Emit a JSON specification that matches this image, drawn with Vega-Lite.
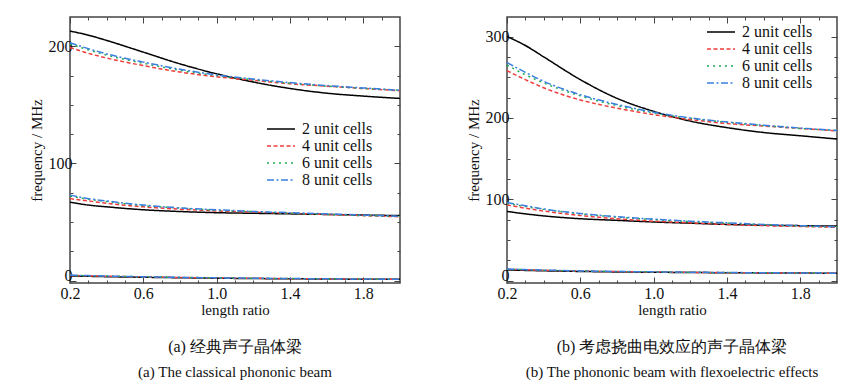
{
  "$schema": "https://vega.github.io/schema/vega-lite/v6.json",
  "padding": {"left": 28, "top": 15, "right": 20, "bottom": 2},
  "spacing": 61,
  "resolve": {"scale": {"color": "independent", "strokeDash": "independent"}},
  "config": {
    "font": "Liberation Serif",
    "view": {"stroke": "#444", "strokeWidth": 1.5},
    "style": {"guide-label": {"font": "Liberation Serif"}, "guide-title": {"font": "Liberation Serif", "fontWeight": "normal"}, "group-title": {"font": "Liberation Serif"}},
    "axis": {"labelFont": "Liberation Serif", "labelFontSize": 16, "labelColor": "#111", "titleFont": "Liberation Serif", "titleFontSize": 15, "titleFontWeight": "normal", "titleColor": "#111", "tickColor": "#444", "grid": false, "domain": false, "labelPadding": 4, "labelFlush": false},
    "legend": {"labelFont": "Liberation Serif", "labelFontSize": 16, "labelColor": "#111", "symbolStrokeWidth": 1.5, "rowPadding": 1, "padding": 0, "labelOffset": 4}
  },
  "datasets": {
    "a": [
      {"series":"2 unit cells","branch":1,"ratio":0.2,"freq":213},{"series":"2 unit cells","branch":1,"ratio":0.3,"freq":209.5},{"series":"2 unit cells","branch":1,"ratio":0.4,"freq":205},{"series":"2 unit cells","branch":1,"ratio":0.6,"freq":195},{"series":"2 unit cells","branch":1,"ratio":0.8,"freq":185},{"series":"2 unit cells","branch":1,"ratio":1.0,"freq":176.5},{"series":"2 unit cells","branch":1,"ratio":1.2,"freq":169.5},{"series":"2 unit cells","branch":1,"ratio":1.4,"freq":164},{"series":"2 unit cells","branch":1,"ratio":1.6,"freq":160},{"series":"2 unit cells","branch":1,"ratio":1.8,"freq":157.5},{"series":"2 unit cells","branch":1,"ratio":2.0,"freq":155.5},
      {"series":"4 unit cells","branch":1,"ratio":0.2,"freq":199},{"series":"4 unit cells","branch":1,"ratio":0.3,"freq":194},{"series":"4 unit cells","branch":1,"ratio":0.4,"freq":190},{"series":"4 unit cells","branch":1,"ratio":0.6,"freq":183.5},{"series":"4 unit cells","branch":1,"ratio":0.8,"freq":178},{"series":"4 unit cells","branch":1,"ratio":1.0,"freq":174},{"series":"4 unit cells","branch":1,"ratio":1.2,"freq":171},{"series":"4 unit cells","branch":1,"ratio":1.4,"freq":168},{"series":"4 unit cells","branch":1,"ratio":1.6,"freq":166},{"series":"4 unit cells","branch":1,"ratio":1.8,"freq":164},{"series":"4 unit cells","branch":1,"ratio":2.0,"freq":162},
      {"series":"6 unit cells","branch":1,"ratio":0.2,"freq":202},{"series":"6 unit cells","branch":1,"ratio":0.3,"freq":197},{"series":"6 unit cells","branch":1,"ratio":0.4,"freq":192.5},{"series":"6 unit cells","branch":1,"ratio":0.6,"freq":185.5},{"series":"6 unit cells","branch":1,"ratio":0.8,"freq":179.5},{"series":"6 unit cells","branch":1,"ratio":1.0,"freq":175},{"series":"6 unit cells","branch":1,"ratio":1.2,"freq":171.5},{"series":"6 unit cells","branch":1,"ratio":1.4,"freq":168.5},{"series":"6 unit cells","branch":1,"ratio":1.6,"freq":166},{"series":"6 unit cells","branch":1,"ratio":1.8,"freq":164},{"series":"6 unit cells","branch":1,"ratio":2.0,"freq":162.5},
      {"series":"8 unit cells","branch":1,"ratio":0.2,"freq":203},{"series":"8 unit cells","branch":1,"ratio":0.3,"freq":198},{"series":"8 unit cells","branch":1,"ratio":0.4,"freq":193.5},{"series":"8 unit cells","branch":1,"ratio":0.6,"freq":186.5},{"series":"8 unit cells","branch":1,"ratio":0.8,"freq":180.5},{"series":"8 unit cells","branch":1,"ratio":1.0,"freq":175.5},{"series":"8 unit cells","branch":1,"ratio":1.2,"freq":172},{"series":"8 unit cells","branch":1,"ratio":1.4,"freq":169},{"series":"8 unit cells","branch":1,"ratio":1.6,"freq":166.5},{"series":"8 unit cells","branch":1,"ratio":1.8,"freq":164.5},{"series":"8 unit cells","branch":1,"ratio":2.0,"freq":162.5},
      {"series":"2 unit cells","branch":2,"ratio":0.2,"freq":67},{"series":"2 unit cells","branch":2,"ratio":0.3,"freq":64.5},{"series":"2 unit cells","branch":2,"ratio":0.4,"freq":63},{"series":"2 unit cells","branch":2,"ratio":0.6,"freq":60.5},{"series":"2 unit cells","branch":2,"ratio":0.8,"freq":59},{"series":"2 unit cells","branch":2,"ratio":1.0,"freq":58},{"series":"2 unit cells","branch":2,"ratio":1.2,"freq":57.5},{"series":"2 unit cells","branch":2,"ratio":1.4,"freq":57},{"series":"2 unit cells","branch":2,"ratio":1.6,"freq":56.5},{"series":"2 unit cells","branch":2,"ratio":1.8,"freq":56},{"series":"2 unit cells","branch":2,"ratio":2.0,"freq":55.5},
      {"series":"4 unit cells","branch":2,"ratio":0.2,"freq":70},{"series":"4 unit cells","branch":2,"ratio":0.3,"freq":68},{"series":"4 unit cells","branch":2,"ratio":0.4,"freq":66},{"series":"4 unit cells","branch":2,"ratio":0.6,"freq":63},{"series":"4 unit cells","branch":2,"ratio":0.8,"freq":61},{"series":"4 unit cells","branch":2,"ratio":1.0,"freq":59.5},{"series":"4 unit cells","branch":2,"ratio":1.2,"freq":58.5},{"series":"4 unit cells","branch":2,"ratio":1.4,"freq":57.5},{"series":"4 unit cells","branch":2,"ratio":1.6,"freq":56.5},{"series":"4 unit cells","branch":2,"ratio":1.8,"freq":55.5},{"series":"4 unit cells","branch":2,"ratio":2.0,"freq":54.5},
      {"series":"6 unit cells","branch":2,"ratio":0.2,"freq":72},{"series":"6 unit cells","branch":2,"ratio":0.3,"freq":69.5},{"series":"6 unit cells","branch":2,"ratio":0.4,"freq":67.5},{"series":"6 unit cells","branch":2,"ratio":0.6,"freq":64},{"series":"6 unit cells","branch":2,"ratio":0.8,"freq":62},{"series":"6 unit cells","branch":2,"ratio":1.0,"freq":60},{"series":"6 unit cells","branch":2,"ratio":1.2,"freq":59},{"series":"6 unit cells","branch":2,"ratio":1.4,"freq":57.5},{"series":"6 unit cells","branch":2,"ratio":1.6,"freq":56.5},{"series":"6 unit cells","branch":2,"ratio":1.8,"freq":55.5},{"series":"6 unit cells","branch":2,"ratio":2.0,"freq":55},
      {"series":"8 unit cells","branch":2,"ratio":0.2,"freq":73},{"series":"8 unit cells","branch":2,"ratio":0.3,"freq":70},{"series":"8 unit cells","branch":2,"ratio":0.4,"freq":68},{"series":"8 unit cells","branch":2,"ratio":0.6,"freq":64.5},{"series":"8 unit cells","branch":2,"ratio":0.8,"freq":62},{"series":"8 unit cells","branch":2,"ratio":1.0,"freq":60.5},{"series":"8 unit cells","branch":2,"ratio":1.2,"freq":59},{"series":"8 unit cells","branch":2,"ratio":1.4,"freq":58},{"series":"8 unit cells","branch":2,"ratio":1.6,"freq":57},{"series":"8 unit cells","branch":2,"ratio":1.8,"freq":56},{"series":"8 unit cells","branch":2,"ratio":2.0,"freq":55},
      {"series":"2 unit cells","branch":3,"ratio":0.2,"freq":4},{"series":"2 unit cells","branch":3,"ratio":0.3,"freq":3.7},{"series":"2 unit cells","branch":3,"ratio":0.4,"freq":3.4},{"series":"2 unit cells","branch":3,"ratio":0.6,"freq":2.9},{"series":"2 unit cells","branch":3,"ratio":0.8,"freq":2.5},{"series":"2 unit cells","branch":3,"ratio":1.0,"freq":2.1},{"series":"2 unit cells","branch":3,"ratio":1.2,"freq":1.8},{"series":"2 unit cells","branch":3,"ratio":1.4,"freq":1.6},{"series":"2 unit cells","branch":3,"ratio":1.6,"freq":1.4},{"series":"2 unit cells","branch":3,"ratio":1.8,"freq":1.2},{"series":"2 unit cells","branch":3,"ratio":2.0,"freq":1.1},
      {"series":"4 unit cells","branch":3,"ratio":0.2,"freq":4.5},{"series":"4 unit cells","branch":3,"ratio":0.3,"freq":4.1},{"series":"4 unit cells","branch":3,"ratio":0.4,"freq":3.8},{"series":"4 unit cells","branch":3,"ratio":0.6,"freq":3.2},{"series":"4 unit cells","branch":3,"ratio":0.8,"freq":2.7},{"series":"4 unit cells","branch":3,"ratio":1.0,"freq":2.3},{"series":"4 unit cells","branch":3,"ratio":1.2,"freq":2.0},{"series":"4 unit cells","branch":3,"ratio":1.4,"freq":1.7},{"series":"4 unit cells","branch":3,"ratio":1.6,"freq":1.5},{"series":"4 unit cells","branch":3,"ratio":1.8,"freq":1.3},{"series":"4 unit cells","branch":3,"ratio":2.0,"freq":1.2},
      {"series":"6 unit cells","branch":3,"ratio":0.2,"freq":4.6},{"series":"6 unit cells","branch":3,"ratio":0.3,"freq":4.2},{"series":"6 unit cells","branch":3,"ratio":0.4,"freq":3.9},{"series":"6 unit cells","branch":3,"ratio":0.6,"freq":3.3},{"series":"6 unit cells","branch":3,"ratio":0.8,"freq":2.8},{"series":"6 unit cells","branch":3,"ratio":1.0,"freq":2.4},{"series":"6 unit cells","branch":3,"ratio":1.2,"freq":2.0},{"series":"6 unit cells","branch":3,"ratio":1.4,"freq":1.8},{"series":"6 unit cells","branch":3,"ratio":1.6,"freq":1.5},{"series":"6 unit cells","branch":3,"ratio":1.8,"freq":1.3},{"series":"6 unit cells","branch":3,"ratio":2.0,"freq":1.2},
      {"series":"8 unit cells","branch":3,"ratio":0.2,"freq":4.7},{"series":"8 unit cells","branch":3,"ratio":0.3,"freq":4.3},{"series":"8 unit cells","branch":3,"ratio":0.4,"freq":3.9},{"series":"8 unit cells","branch":3,"ratio":0.6,"freq":3.3},{"series":"8 unit cells","branch":3,"ratio":0.8,"freq":2.8},{"series":"8 unit cells","branch":3,"ratio":1.0,"freq":2.4},{"series":"8 unit cells","branch":3,"ratio":1.2,"freq":2.1},{"series":"8 unit cells","branch":3,"ratio":1.4,"freq":1.8},{"series":"8 unit cells","branch":3,"ratio":1.6,"freq":1.6},{"series":"8 unit cells","branch":3,"ratio":1.8,"freq":1.4},{"series":"8 unit cells","branch":3,"ratio":2.0,"freq":1.2}
    ],
    "b": [
      {"series":"2 unit cells","branch":1,"ratio":0.2,"freq":300},{"series":"2 unit cells","branch":1,"ratio":0.3,"freq":289},{"series":"2 unit cells","branch":1,"ratio":0.4,"freq":275},{"series":"2 unit cells","branch":1,"ratio":0.6,"freq":247},{"series":"2 unit cells","branch":1,"ratio":0.8,"freq":224},{"series":"2 unit cells","branch":1,"ratio":1.0,"freq":208},{"series":"2 unit cells","branch":1,"ratio":1.2,"freq":196},{"series":"2 unit cells","branch":1,"ratio":1.4,"freq":188},{"series":"2 unit cells","branch":1,"ratio":1.6,"freq":182},{"series":"2 unit cells","branch":1,"ratio":1.8,"freq":178},{"series":"2 unit cells","branch":1,"ratio":2.0,"freq":174},
      {"series":"4 unit cells","branch":1,"ratio":0.2,"freq":258},{"series":"4 unit cells","branch":1,"ratio":0.3,"freq":247},{"series":"4 unit cells","branch":1,"ratio":0.4,"freq":237},{"series":"4 unit cells","branch":1,"ratio":0.6,"freq":222},{"series":"4 unit cells","branch":1,"ratio":0.8,"freq":212},{"series":"4 unit cells","branch":1,"ratio":1.0,"freq":204},{"series":"4 unit cells","branch":1,"ratio":1.2,"freq":198},{"series":"4 unit cells","branch":1,"ratio":1.4,"freq":193},{"series":"4 unit cells","branch":1,"ratio":1.6,"freq":190},{"series":"4 unit cells","branch":1,"ratio":1.8,"freq":187},{"series":"4 unit cells","branch":1,"ratio":2.0,"freq":184},
      {"series":"6 unit cells","branch":1,"ratio":0.2,"freq":265},{"series":"6 unit cells","branch":1,"ratio":0.3,"freq":253},{"series":"6 unit cells","branch":1,"ratio":0.4,"freq":243},{"series":"6 unit cells","branch":1,"ratio":0.6,"freq":227},{"series":"6 unit cells","branch":1,"ratio":0.8,"freq":215},{"series":"6 unit cells","branch":1,"ratio":1.0,"freq":206},{"series":"6 unit cells","branch":1,"ratio":1.2,"freq":199.5},{"series":"6 unit cells","branch":1,"ratio":1.4,"freq":194.5},{"series":"6 unit cells","branch":1,"ratio":1.6,"freq":190.5},{"series":"6 unit cells","branch":1,"ratio":1.8,"freq":187},{"series":"6 unit cells","branch":1,"ratio":2.0,"freq":184.5},
      {"series":"8 unit cells","branch":1,"ratio":0.2,"freq":268},{"series":"8 unit cells","branch":1,"ratio":0.3,"freq":256},{"series":"8 unit cells","branch":1,"ratio":0.4,"freq":245},{"series":"8 unit cells","branch":1,"ratio":0.6,"freq":228.5},{"series":"8 unit cells","branch":1,"ratio":0.8,"freq":216.5},{"series":"8 unit cells","branch":1,"ratio":1.0,"freq":207},{"series":"8 unit cells","branch":1,"ratio":1.2,"freq":200},{"series":"8 unit cells","branch":1,"ratio":1.4,"freq":195},{"series":"8 unit cells","branch":1,"ratio":1.6,"freq":191},{"series":"8 unit cells","branch":1,"ratio":1.8,"freq":187.5},{"series":"8 unit cells","branch":1,"ratio":2.0,"freq":184.5},
      {"series":"2 unit cells","branch":2,"ratio":0.2,"freq":85},{"series":"2 unit cells","branch":2,"ratio":0.3,"freq":82},{"series":"2 unit cells","branch":2,"ratio":0.4,"freq":79.5},{"series":"2 unit cells","branch":2,"ratio":0.6,"freq":76},{"series":"2 unit cells","branch":2,"ratio":0.8,"freq":74},{"series":"2 unit cells","branch":2,"ratio":1.0,"freq":72},{"series":"2 unit cells","branch":2,"ratio":1.2,"freq":70.5},{"series":"2 unit cells","branch":2,"ratio":1.4,"freq":69},{"series":"2 unit cells","branch":2,"ratio":1.6,"freq":68},{"series":"2 unit cells","branch":2,"ratio":1.8,"freq":67.5},{"series":"2 unit cells","branch":2,"ratio":2.0,"freq":67},
      {"series":"4 unit cells","branch":2,"ratio":0.2,"freq":93},{"series":"4 unit cells","branch":2,"ratio":0.3,"freq":89},{"series":"4 unit cells","branch":2,"ratio":0.4,"freq":85.5},{"series":"4 unit cells","branch":2,"ratio":0.6,"freq":80},{"series":"4 unit cells","branch":2,"ratio":0.8,"freq":76},{"series":"4 unit cells","branch":2,"ratio":1.0,"freq":73},{"series":"4 unit cells","branch":2,"ratio":1.2,"freq":71},{"series":"4 unit cells","branch":2,"ratio":1.4,"freq":69},{"series":"4 unit cells","branch":2,"ratio":1.6,"freq":67.5},{"series":"4 unit cells","branch":2,"ratio":1.8,"freq":66.5},{"series":"4 unit cells","branch":2,"ratio":2.0,"freq":65.5},
      {"series":"6 unit cells","branch":2,"ratio":0.2,"freq":95},{"series":"6 unit cells","branch":2,"ratio":0.3,"freq":91},{"series":"6 unit cells","branch":2,"ratio":0.4,"freq":87.5},{"series":"6 unit cells","branch":2,"ratio":0.6,"freq":82},{"series":"6 unit cells","branch":2,"ratio":0.8,"freq":78},{"series":"6 unit cells","branch":2,"ratio":1.0,"freq":75},{"series":"6 unit cells","branch":2,"ratio":1.2,"freq":72.5},{"series":"6 unit cells","branch":2,"ratio":1.4,"freq":70.5},{"series":"6 unit cells","branch":2,"ratio":1.6,"freq":68.5},{"series":"6 unit cells","branch":2,"ratio":1.8,"freq":67},{"series":"6 unit cells","branch":2,"ratio":2.0,"freq":66},
      {"series":"8 unit cells","branch":2,"ratio":0.2,"freq":96},{"series":"8 unit cells","branch":2,"ratio":0.3,"freq":92},{"series":"8 unit cells","branch":2,"ratio":0.4,"freq":88},{"series":"8 unit cells","branch":2,"ratio":0.6,"freq":82.5},{"series":"8 unit cells","branch":2,"ratio":0.8,"freq":78.5},{"series":"8 unit cells","branch":2,"ratio":1.0,"freq":75.5},{"series":"8 unit cells","branch":2,"ratio":1.2,"freq":73},{"series":"8 unit cells","branch":2,"ratio":1.4,"freq":71},{"series":"8 unit cells","branch":2,"ratio":1.6,"freq":69},{"series":"8 unit cells","branch":2,"ratio":1.8,"freq":67.5},{"series":"8 unit cells","branch":2,"ratio":2.0,"freq":66},
      {"series":"2 unit cells","branch":3,"ratio":0.2,"freq":13},{"series":"2 unit cells","branch":3,"ratio":0.3,"freq":12.5},{"series":"2 unit cells","branch":3,"ratio":0.4,"freq":12},{"series":"2 unit cells","branch":3,"ratio":0.6,"freq":11.2},{"series":"2 unit cells","branch":3,"ratio":0.8,"freq":10.6},{"series":"2 unit cells","branch":3,"ratio":1.0,"freq":10.2},{"series":"2 unit cells","branch":3,"ratio":1.2,"freq":9.9},{"series":"2 unit cells","branch":3,"ratio":1.4,"freq":9.6},{"series":"2 unit cells","branch":3,"ratio":1.6,"freq":9.4},{"series":"2 unit cells","branch":3,"ratio":1.8,"freq":9.2},{"series":"2 unit cells","branch":3,"ratio":2.0,"freq":9.0},
      {"series":"4 unit cells","branch":3,"ratio":0.2,"freq":13.8},{"series":"4 unit cells","branch":3,"ratio":0.3,"freq":13.2},{"series":"4 unit cells","branch":3,"ratio":0.4,"freq":12.6},{"series":"4 unit cells","branch":3,"ratio":0.6,"freq":11.7},{"series":"4 unit cells","branch":3,"ratio":0.8,"freq":11},{"series":"4 unit cells","branch":3,"ratio":1.0,"freq":10.5},{"series":"4 unit cells","branch":3,"ratio":1.2,"freq":10.1},{"series":"4 unit cells","branch":3,"ratio":1.4,"freq":9.7},{"series":"4 unit cells","branch":3,"ratio":1.6,"freq":9.4},{"series":"4 unit cells","branch":3,"ratio":1.8,"freq":9.2},{"series":"4 unit cells","branch":3,"ratio":2.0,"freq":9.0},
      {"series":"6 unit cells","branch":3,"ratio":0.2,"freq":14},{"series":"6 unit cells","branch":3,"ratio":0.3,"freq":13.3},{"series":"6 unit cells","branch":3,"ratio":0.4,"freq":12.7},{"series":"6 unit cells","branch":3,"ratio":0.6,"freq":11.8},{"series":"6 unit cells","branch":3,"ratio":0.8,"freq":11.1},{"series":"6 unit cells","branch":3,"ratio":1.0,"freq":10.6},{"series":"6 unit cells","branch":3,"ratio":1.2,"freq":10.2},{"series":"6 unit cells","branch":3,"ratio":1.4,"freq":9.8},{"series":"6 unit cells","branch":3,"ratio":1.6,"freq":9.5},{"series":"6 unit cells","branch":3,"ratio":1.8,"freq":9.3},{"series":"6 unit cells","branch":3,"ratio":2.0,"freq":9.1},
      {"series":"8 unit cells","branch":3,"ratio":0.2,"freq":14.2},{"series":"8 unit cells","branch":3,"ratio":0.3,"freq":13.5},{"series":"8 unit cells","branch":3,"ratio":0.4,"freq":12.9},{"series":"8 unit cells","branch":3,"ratio":0.6,"freq":11.9},{"series":"8 unit cells","branch":3,"ratio":0.8,"freq":11.2},{"series":"8 unit cells","branch":3,"ratio":1.0,"freq":10.7},{"series":"8 unit cells","branch":3,"ratio":1.2,"freq":10.3},{"series":"8 unit cells","branch":3,"ratio":1.4,"freq":9.9},{"series":"8 unit cells","branch":3,"ratio":1.6,"freq":9.6},{"series":"8 unit cells","branch":3,"ratio":1.8,"freq":9.3},{"series":"8 unit cells","branch":3,"ratio":2.0,"freq":9.1}
    ]
  },
  "hconcat": [
    {
      "width": 330, "height": 266,
      "data": {"name": "a"},
      "title": {"text": "(a) 经典声子晶体梁", "subtitle": "(a) The classical phononic beam", "orient": "bottom", "anchor": "middle", "font": "Liberation Serif", "fontSize": 16, "fontWeight": "normal", "color": "#111", "subtitleFont": "Liberation Serif", "subtitleFontSize": 15, "subtitleColor": "#111", "subtitlePadding": 10, "offset": 22},
      "layer": [
        {
          "mark": {"type": "line", "strokeWidth": 1.5, "interpolate": "monotone"},
          "encoding": {
            "x": {"field": "ratio", "type": "quantitative", "scale": {"domain": [0.2, 2.0], "nice": false, "zero": false}, "axis": {"orient": "bottom", "values": [0.2, 0.6, 1.0, 1.4, 1.8], "format": ".1f", "title": "length ratio", "tickSize": -6, "labelPadding": 8, "titlePadding": 1, "labelFlush": false, "labelOverlap": false}},
            "y": {"field": "freq", "type": "quantitative", "scale": {"domain": [-2, 225], "nice": false, "zero": false}, "axis": {"orient": "left", "values": [0, 100, 200], "title": "frequency / MHz", "tickSize": -6, "titlePadding": 4, "labelFlush": false, "labelOffset": {"condition": {"test": "datum.value === 0", "value": -5}, "value": 0}}},
            "color": {"field": "series", "type": "nominal", "scale": {"domain": ["2 unit cells", "4 unit cells", "6 unit cells", "8 unit cells"], "range": ["#000000", "#f03c3c", "#22aa55", "#3a7fe0"]}, "legend": {"title": null, "orient": "none", "legendX": 212, "legendY": 104, "symbolType": "M-4.6,0H1", "symbolSize": 100}},
            "strokeDash": {"field": "series", "type": "nominal", "scale": {"domain": ["2 unit cells", "4 unit cells", "6 unit cells", "8 unit cells"], "range": [[1, 0], [4, 2.5], [2, 4], [7, 2.5, 2, 2.5]]}, "legend": {"title": null, "orient": "none", "legendX": 212, "legendY": 104, "symbolType": "M-4.6,0H1", "symbolSize": 100}},
            "detail": {"field": "branch"}
          }
        },
        {
          "mark": {"type": "point", "opacity": 0},
          "encoding": {
            "x": {"field": "ratio", "type": "quantitative", "scale": {"domain": [0.2, 2.0], "nice": false, "zero": false}, "axis": {"orient": "bottom", "values": [0.3, 0.4, 0.5, 0.7, 0.8, 0.9, 1.1, 1.2, 1.3, 1.5, 1.6, 1.7, 1.9], "labels": false, "title": null, "tickSize": -3}},
            "y": {"field": "freq", "type": "quantitative", "scale": {"domain": [-2, 225], "nice": false, "zero": false}, "axis": {"orient": "left", "values": [25, 50, 75, 125, 150, 175], "labels": false, "title": null, "tickSize": -3}}
          }
        },
        {
          "mark": {"type": "point", "opacity": 0},
          "encoding": {
            "x": {"field": "ratio", "type": "quantitative", "scale": {"domain": [0.2, 2.0], "nice": false, "zero": false}, "axis": {"orient": "top", "values": [0.2, 0.6, 1.0, 1.4, 1.8], "labels": false, "title": null, "tickSize": -6}},
            "y": {"field": "freq", "type": "quantitative", "scale": {"domain": [-2, 225], "nice": false, "zero": false}, "axis": {"orient": "right", "values": [0, 100, 200], "labels": false, "title": null, "tickSize": -6}}
          }
        },
        {
          "mark": {"type": "point", "opacity": 0},
          "encoding": {
            "x": {"field": "ratio", "type": "quantitative", "scale": {"domain": [0.2, 2.0], "nice": false, "zero": false}, "axis": {"orient": "top", "values": [0.3, 0.4, 0.5, 0.7, 0.8, 0.9, 1.1, 1.2, 1.3, 1.5, 1.6, 1.7, 1.9], "labels": false, "title": null, "tickSize": -3}},
            "y": {"field": "freq", "type": "quantitative", "scale": {"domain": [-2, 225], "nice": false, "zero": false}, "axis": {"orient": "right", "values": [25, 50, 75, 125, 150, 175], "labels": false, "title": null, "tickSize": -3}}
          }
        }
      ],
      "resolve": {"axis": {"x": "independent", "y": "independent"}}
    },
    {
      "width": 330, "height": 266,
      "data": {"name": "b"},
      "title": {"text": "(b) 考虑挠曲电效应的声子晶体梁", "subtitle": "(b) The phononic beam with flexoelectric effects", "orient": "bottom", "anchor": "middle", "font": "Liberation Serif", "fontSize": 16, "fontWeight": "normal", "color": "#111", "subtitleFont": "Liberation Serif", "subtitleFontSize": 15, "subtitleColor": "#111", "subtitlePadding": 10, "offset": 22},
      "layer": [
        {
          "mark": {"type": "line", "strokeWidth": 1.5, "interpolate": "monotone"},
          "encoding": {
            "x": {"field": "ratio", "type": "quantitative", "scale": {"domain": [0.2, 2.0], "nice": false, "zero": false}, "axis": {"orient": "bottom", "values": [0.2, 0.6, 1.0, 1.4, 1.8], "format": ".1f", "title": "length ratio", "tickSize": -6, "labelPadding": 8, "titlePadding": 1, "labelFlush": false, "labelOverlap": false}},
            "y": {"field": "freq", "type": "quantitative", "scale": {"domain": [-3, 324], "nice": false, "zero": false}, "axis": {"orient": "left", "values": [0, 100, 200, 300], "title": "frequency / MHz", "tickSize": -6, "titlePadding": 4, "labelFlush": false, "labelOffset": {"condition": {"test": "datum.value === 0", "value": -5}, "value": 0}}},
            "color": {"field": "series", "type": "nominal", "scale": {"domain": ["2 unit cells", "4 unit cells", "6 unit cells", "8 unit cells"], "range": ["#000000", "#f03c3c", "#22aa55", "#3a7fe0"]}, "legend": {"title": null, "orient": "none", "legendX": 215, "legendY": 7, "symbolType": "M-4.6,0H1", "symbolSize": 100}},
            "strokeDash": {"field": "series", "type": "nominal", "scale": {"domain": ["2 unit cells", "4 unit cells", "6 unit cells", "8 unit cells"], "range": [[1, 0], [4, 2.5], [2, 4], [7, 2.5, 2, 2.5]]}, "legend": {"title": null, "orient": "none", "legendX": 215, "legendY": 7, "symbolType": "M-4.6,0H1", "symbolSize": 100}},
            "detail": {"field": "branch"}
          }
        },
        {
          "mark": {"type": "point", "opacity": 0},
          "encoding": {
            "x": {"field": "ratio", "type": "quantitative", "scale": {"domain": [0.2, 2.0], "nice": false, "zero": false}, "axis": {"orient": "bottom", "values": [0.3, 0.4, 0.5, 0.7, 0.8, 0.9, 1.1, 1.2, 1.3, 1.5, 1.6, 1.7, 1.9], "labels": false, "title": null, "tickSize": -3}},
            "y": {"field": "freq", "type": "quantitative", "scale": {"domain": [-3, 324], "nice": false, "zero": false}, "axis": {"orient": "left", "values": [25, 50, 75, 125, 150, 175, 225, 250, 275], "labels": false, "title": null, "tickSize": -3}}
          }
        },
        {
          "mark": {"type": "point", "opacity": 0},
          "encoding": {
            "x": {"field": "ratio", "type": "quantitative", "scale": {"domain": [0.2, 2.0], "nice": false, "zero": false}, "axis": {"orient": "top", "values": [0.2, 0.6, 1.0, 1.4, 1.8], "labels": false, "title": null, "tickSize": -6}},
            "y": {"field": "freq", "type": "quantitative", "scale": {"domain": [-3, 324], "nice": false, "zero": false}, "axis": {"orient": "right", "values": [0, 100, 200, 300], "labels": false, "title": null, "tickSize": -6}}
          }
        },
        {
          "mark": {"type": "point", "opacity": 0},
          "encoding": {
            "x": {"field": "ratio", "type": "quantitative", "scale": {"domain": [0.2, 2.0], "nice": false, "zero": false}, "axis": {"orient": "top", "values": [0.3, 0.4, 0.5, 0.7, 0.8, 0.9, 1.1, 1.2, 1.3, 1.5, 1.6, 1.7, 1.9], "labels": false, "title": null, "tickSize": -3}},
            "y": {"field": "freq", "type": "quantitative", "scale": {"domain": [-3, 324], "nice": false, "zero": false}, "axis": {"orient": "right", "values": [25, 50, 75, 125, 150, 175, 225, 250, 275], "labels": false, "title": null, "tickSize": -3}}
          }
        }
      ],
      "resolve": {"axis": {"x": "independent", "y": "independent"}}
    }
  ]
}
